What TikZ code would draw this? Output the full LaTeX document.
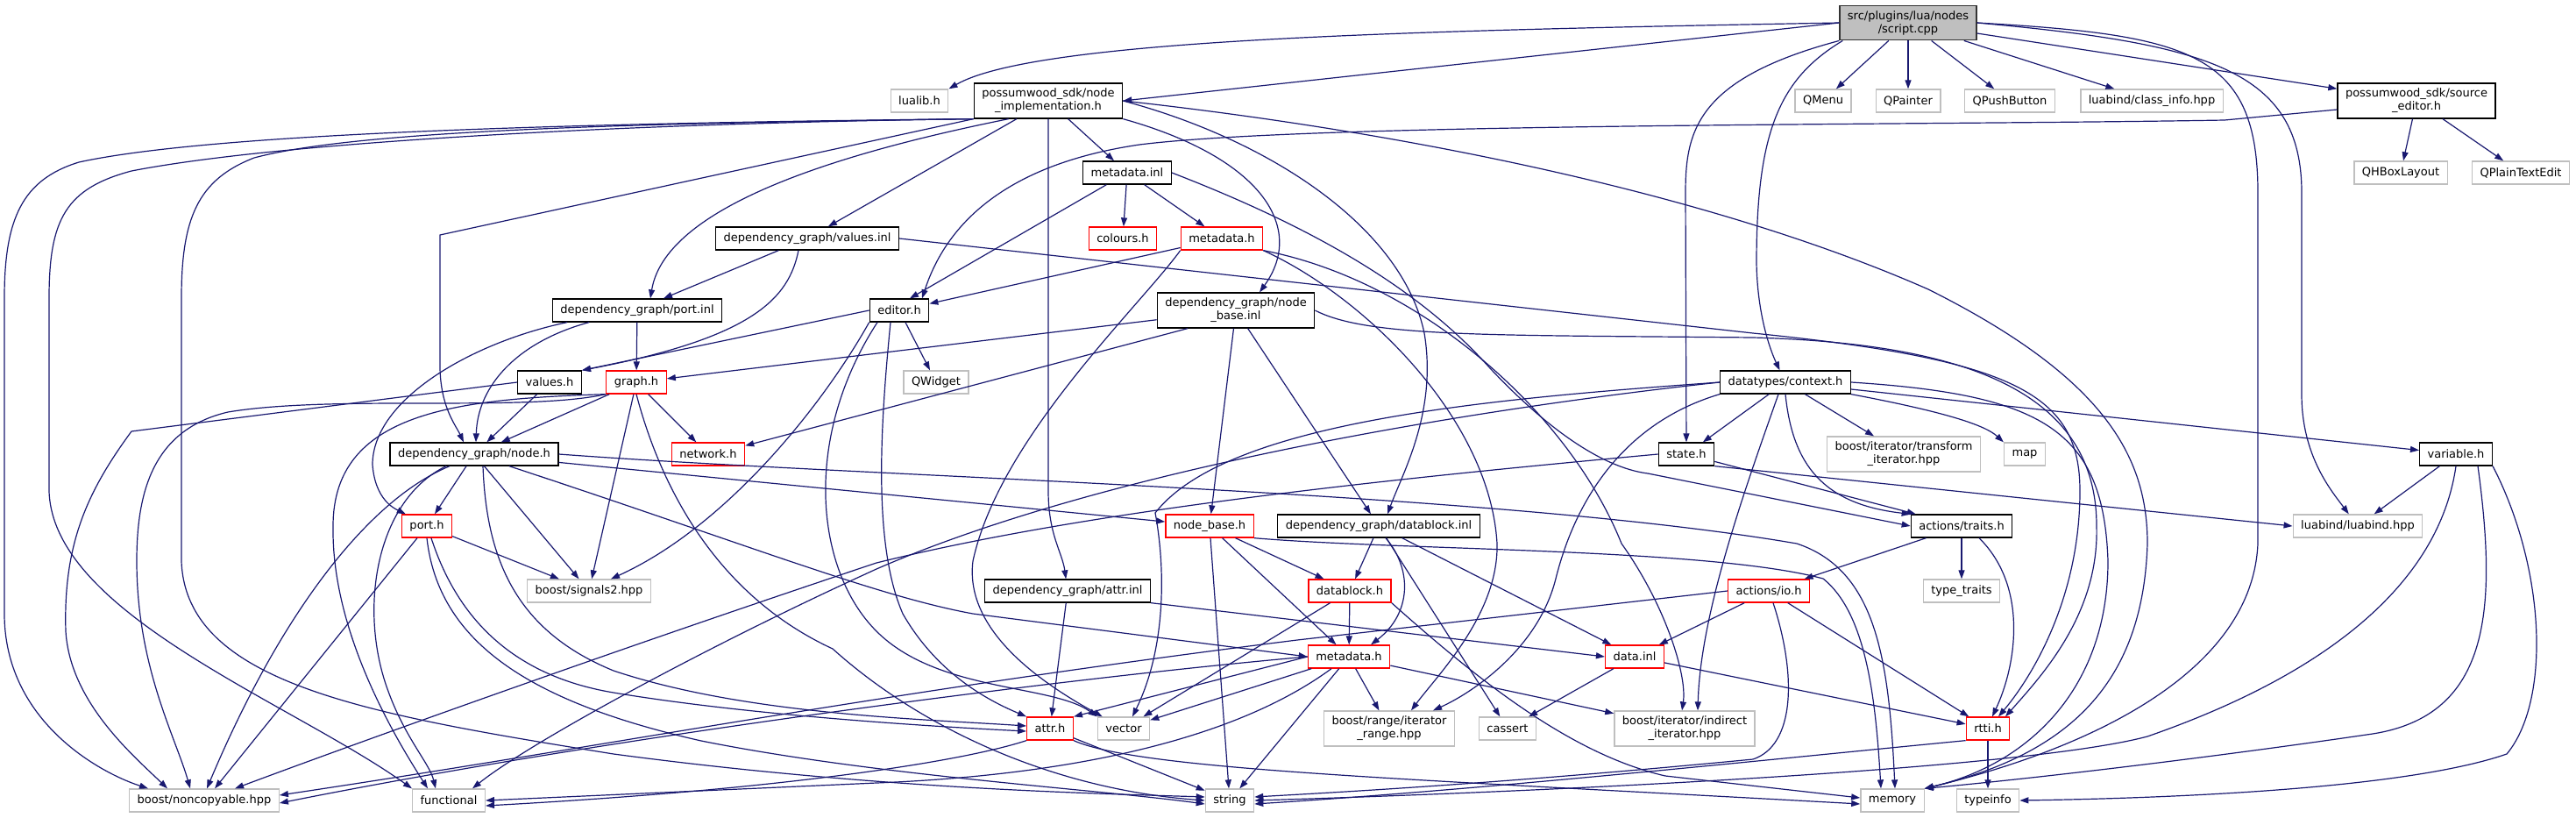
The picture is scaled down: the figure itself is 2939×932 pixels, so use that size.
\documentclass[tikz,border=0pt]{standalone}
\usepackage{fontspec}
\setmainfont{DejaVu Sans}
\usetikzlibrary{arrows.meta}
\definecolor{edge}{HTML}{191970}
\definecolor{lgray}{HTML}{BFBFBF}
\tikzset{
  hdr/.style={rectangle,draw,fill=white,line width=1.3pt,minimum height=26pt,
    inner xsep=9pt,inner ysep=6pt,align=center,font=\fontsize{13}{15}\selectfont},
  extbox/.style={hdr,draw=lgray},
  prjbox/.style={hdr,draw=black},
  cutbox/.style={hdr,draw=red},
  srcbox/.style={hdr,draw=black!80,fill=lgray},
  ar/.style={-{Triangle[length=10pt,width=7pt]},line width=1.2pt,draw=edge},
}
\begin{document}
\begin{tikzpicture}[x=1pt,y=-1pt]
\useasboundingbox (0,0) rectangle (2939,932);

% ---- files, row by row
\node[srcbox] (root) at (2177,26) {src/plugins/lua/nodes\\/script.cpp};
\node[extbox] (lualib) at (1049,115) {lualib.h};
\node[prjbox] (nodeimpl) at (1196,115) {possumwood\_sdk/node\\\_implementation.h};
\node[extbox] (qmenu) at (2080,115) {QMenu};
\node[extbox] (qpainter) at (2177,115) {QPainter};
\node[extbox] (qpush) at (2293,115) {QPushButton};
\node[extbox] (classinfo) at (2455,115) {luabind/class\_info.hpp};
\node[prjbox] (srced) at (2757,115) {possumwood\_sdk/source\\\_editor.h};
\node[prjbox] (mdinl) at (1286,197) {metadata.inl};
\node[extbox] (qhbox) at (2739,197) {QHBoxLayout};
\node[extbox] (qplain) at (2876,197) {QPlainTextEdit};
\node[prjbox] (valinl) at (921,272) {dependency\_graph/values.inl};
\node[cutbox] (colours) at (1281,272) {colours.h};
\node[cutbox] (mdtop) at (1394,272) {metadata.h};
\node[prjbox] (portinl) at (727,354) {dependency\_graph/port.inl};
\node[prjbox] (editor) at (1026,354) {editor.h};
\node[prjbox] (nbinl) at (1410,354) {dependency\_graph/node\\\_base.inl};
\node[prjbox] (valh) at (627,436) {values.h};
\node[cutbox] (graph) at (726,436) {graph.h};
\node[extbox] (qwidget) at (1068,436) {QWidget};
\node[prjbox] (context) at (2037,436) {datatypes/context.h};
\node[prjbox] (nodeh) at (541,518) {dependency\_graph/node.h};
\node[cutbox] (network) at (808,518) {network.h};
\node[prjbox] (state) at (1924,518) {state.h};
\node[extbox] (transform) at (2172,518) {boost/iterator/transform\\\_iterator.hpp};
\node[extbox] (map) at (2310,518) {map};
\node[prjbox] (variable) at (2802,518) {variable.h};
\node[cutbox] (porth) at (487,600) {port.h};
\node[cutbox] (nbh) at (1380,600) {node\_base.h};
\node[prjbox] (dbinl) at (1573,600) {dependency\_graph/datablock.inl};
\node[prjbox] (traits) at (2238,600) {actions/traits.h};
\node[extbox] (luabind) at (2690,600) {luabind/luabind.hpp};
\node[extbox] (signals) at (672,674) {boost/signals2.hpp};
\node[prjbox] (attrinl) at (1218,674) {dependency\_graph/attr.inl};
\node[cutbox] (dbh) at (1540,674) {datablock.h};
\node[cutbox] (ioh) at (2018,674) {actions/io.h};
\node[extbox] (typetraits) at (2238,674) {type\_traits};
\node[cutbox] (mdlow) at (1539,749) {metadata.h};
\node[cutbox] (datainl) at (1865,749) {data.inl};
\node[cutbox] (attrh) at (1198,831) {attr.h};
\node[extbox] (vector) at (1282,831) {vector};
\node[extbox] (itrange) at (1585,831) {boost/range/iterator\\\_range.hpp};
\node[extbox] (cassert) at (1720,831) {cassert};
\node[extbox] (inditer) at (1922,831) {boost/iterator/indirect\\\_iterator.hpp};
\node[cutbox] (rtti) at (2268,831) {rtti.h};
\node[extbox] (noncop) at (233,913) {boost/noncopyable.hpp};
\node[extbox] (functional) at (512,913) {functional};
\node[extbox] (string) at (1403,913) {string};
\node[extbox] (memory) at (2159,913) {memory};
\node[extbox] (typeinfo) at (2268,913) {typeinfo};

% ---- script.cpp
\draw[ar] (root.west) .. controls (1600,35) and (1180,45) .. (lualib.north east);
\draw[ar] (root.west) -- (nodeimpl.east);
\foreach \t in {qmenu,qpainter,qpush,classinfo,srced} \draw[ar] (root) -- (\t);
\draw[ar] (root.south west) .. controls (1935,90) and (1923,150) .. (1923,220) -- (state);
\draw[ar] ([xshift=4pt]root.south west) .. controls (2030,90) and (2004,150) .. (2004,300)
  .. controls (2005,360) and (2020,400) .. (context);
\draw[ar] (root.east) .. controls (2520,50) and (2626,80) .. (2626,220) -- (2626,450)
  .. controls (2626,520) and (2660,560) .. (luabind);
\draw[ar] (root.east) .. controls (2500,40) and (2576,60) .. (2576,220) -- (2576,620)
  .. controls (2570,760) and (2400,850) .. (memory.north east);

% ---- source_editor.h
\draw[ar] (srced) -- (qhbox);
\draw[ar] (srced) -- (qplain);
\draw[ar] ([yshift=-10pt]srced.west) -- (2538,137) .. controls (2200,143) and (1500,140) .. (1300,165)
  .. controls (1130,190) and (1075,270) .. ([xshift=26pt]editor.north);

% ---- node_implementation.h
\draw[ar] (nodeimpl) -- (mdinl);
\draw[ar] (nodeimpl) -- (valinl);
\draw[ar] ([xshift=40pt]nodeimpl.south west) .. controls (980,170) and (760,230) .. ([xshift=15pt]portinl.north);
\draw[ar] (nodeimpl.south west) -- (502,268) -- (502,420) .. controls (503,465) and (520,485) .. ([xshift=-12pt]nodeh.north);
\draw[ar] (nodeimpl.south west) .. controls (700,140) and (250,150) .. (90,185) .. controls (25,205) and (5,250) .. (5,340)
  -- (5,700) .. controls (5,820) and (110,880) .. ([xshift=22pt]noncop.north west);
\draw[ar] (nodeimpl.south west) .. controls (750,140) and (330,160) .. (150,195) .. controls (75,215) and (56,250) .. (56,340)
  -- (56,560) .. controls (60,700) and (330,800) .. (functional.north west);
\draw[ar] (nodeimpl.south west) .. controls (800,140) and (420,145) .. (290,180) .. controls (225,205) and (207,250) .. (207,340)
  -- (207,640) .. controls (212,780) and (420,815) .. (700,860) .. controls (1000,900) and (1250,905) .. ([yshift=4pt]string.west);
\draw[ar] (nodeimpl.south east) .. controls (1440,180) and (1490,260) .. ([xshift=27pt]nbinl.north);
\draw[ar] (nodeimpl.east) .. controls (1450,160) and (1600,260) .. (1625,380)
  .. controls (1640,470) and (1600,540) .. ([xshift=10pt]dbinl.north);
\draw[ar] (nodeimpl) -- (1196,560) .. controls (1196,610) and (1212,630) .. (attrinl);
\draw[ar] (nodeimpl.east) .. controls (1600,150) and (1950,220) .. (2200,330) .. controls (2400,430) and (2450,520) .. (2450,620)
  .. controls (2445,780) and (2360,860) .. (memory.north east);

% ---- metadata.inl, metadata.h
\draw[ar] (mdinl) -- (colours);
\draw[ar] (mdinl) -- (mdtop);
\draw[ar] (mdinl) -- ([xshift=12pt]editor.north);
\draw[ar] (mdinl.east) .. controls (1500,260) and (1620,330) .. (1700,420)
  .. controls (1780,505) and (1840,535) .. (1880,540) -- (traits.west);
\draw[ar] (mdtop) -- (editor);
\draw[ar] (mdtop.south west) .. controls (1300,350) and (1140,500) .. (1110,640)
  .. controls (1100,720) and (1190,780) .. ([xshift=6pt]vector.north west);
\draw[ar] (mdtop.south east) .. controls (1560,340) and (1700,480) .. (1708,620)
  .. controls (1710,700) and (1640,770) .. ([xshift=25pt]itrange.north);
\draw[ar] (mdtop.south east) .. controls (1620,320) and (1790,470) .. (1850,620)
  .. controls (1900,690) and (1925,770) .. ([xshift=-3pt]inditer.north);

% ---- values.inl, port.inl, editor.h
\draw[ar] (valinl) -- ([xshift=30pt]portinl.north);
\draw[ar] ([xshift=-10pt]valinl.south) .. controls (900,340) and (860,385) .. (valh.north east);
\draw[ar] (valinl.east) -- (2000,380) .. controls (2300,410) and (2373,450) .. (2373,560)
  .. controls (2373,680) and (2320,770) .. ([xshift=12pt]rtti.north);
\draw[ar] (portinl) -- (graph);
\draw[ar] ([xshift=-55pt]portinl.south) .. controls (590,390) and (545,440) .. ([xshift=2pt]nodeh.north);
\draw[ar] ([xshift=-80pt]portinl.south) .. controls (540,390) and (425,455) .. (425,530)
  .. controls (428,570) and (450,580) .. ([xshift=5pt]porth.north west);
\draw[ar] (editor.west) -- (valh.north east);
\draw[ar] (editor) -- (qwidget);
\draw[ar] (editor.south west) .. controls (940,460) and (830,600) .. ([xshift=25pt]signals.north);
\draw[ar] ([xshift=-10pt]editor.south) .. controls (1005,480) and (995,620) .. (1030,700)
  .. controls (1070,770) and (1130,800) .. (attrh.north west);
\draw[ar] ([xshift=-25pt]editor.south) .. controls (915,500) and (930,650) .. (1000,720)
  .. controls (1070,790) and (1200,780) .. (vector.north west);

% ---- node_base.inl
\draw[ar] (nbinl) -- (graph);
\draw[ar] ([xshift=-55pt]nbinl.south) -- ([yshift=-4pt]network.north east);
\draw[ar] (nbinl) -- (nbh);
\draw[ar] (nbinl) -- (dbinl);
\draw[ar] (nbinl.east) .. controls (1560,385) and (1700,382) .. (2000,385) .. controls (2250,392) and (2392,450) .. (2392,600)
  .. controls (2395,700) and (2330,770) .. ([xshift=20pt]rtti.north);

% ---- values.h, graph.h
\draw[ar] (valh) -- (nodeh);
\draw[ar] (valh.west) -- (150,492) .. controls (100,560) and (72,620) .. (75,720)
  .. controls (80,800) and (150,860) .. ([xshift=44pt]noncop.north west);
\draw[ar] (graph) -- (nodeh);
\draw[ar] (graph) -- (network);
\draw[ar] (graph) -- (signals);
\draw[ar] (graph.south west) .. controls (600,470) and (380,450) .. (260,470) .. controls (175,490) and (156,560) .. (156,640)
  .. controls (156,760) and (200,840) .. ([xshift=70pt]noncop.north west);
\draw[ar] (graph.south west) .. controls (520,455) and (380,470) .. (380,600)
  .. controls (378,720) and (450,840) .. ([xshift=-24pt]functional.north);
\draw[ar] (graph.south) .. controls (755,560) and (820,680) .. (950,740)
  .. controls (1050,830) and (1200,900) .. (string.west);

% ---- dependency_graph/node.h
\draw[ar] (nodeh) -- (porth);
\draw[ar] (nodeh) -- (signals);
\draw[ar] ([xshift=-28pt]nodeh.south) .. controls (420,570) and (320,700) .. ([xshift=89pt]noncop.north west);
\draw[ar] ([xshift=-32pt]nodeh.south) .. controls (430,570) and (410,690) .. (440,780)
  .. controls (460,840) and (490,870) .. ([xshift=-15pt]functional.north);
\draw[ar] (nodeh) -- (nbh);
\draw[ar] ([xshift=40pt]nodeh.south) .. controls (850,620) and (1000,680) .. (1110,700) -- (mdlow.west);
\draw[ar] ([xshift=10pt]nodeh.south) .. controls (555,640) and (590,720) .. (700,765)
  .. controls (850,815) and (1050,820) .. ([yshift=3pt]attrh.west);
\draw[ar] (nodeh.east) .. controls (1000,545) and (1700,560) .. (2050,620)
  .. controls (2140,650) and (2155,750) .. ([xshift=3pt]memory.north);

% ---- port.h, node_base.h
\draw[ar] (porth) -- (signals);
\draw[ar] (porth) -- ([xshift=98pt]noncop.north west);
\draw[ar] ([xshift=5pt]porth.south) .. controls (520,700) and (580,770) .. (700,790)
  .. controls (850,815) and (1050,828) .. ([yshift=-3pt]attrh.west);
\draw[ar] (porth.south) .. controls (500,730) and (600,800) .. (800,845)
  .. controls (1000,885) and (1250,900) .. ([yshift=-4pt]string.west);
\draw[ar] (nbh) -- (dbh);
\draw[ar] (nbh) -- (mdlow);
\draw[ar] (nbh) -- (string);
\draw[ar] (nbh.south east) .. controls (1600,628) and (1950,625) .. (2080,660)
  .. controls (2130,700) and (2140,800) .. ([xshift=-13pt]memory.north);

% ---- datablock.inl, datablock.h
\draw[ar] (dbinl) -- (dbh);
\draw[ar] ([xshift=8pt]dbinl.south) .. controls (1612,650) and (1610,700) .. ([xshift=25pt]mdlow.north);
\draw[ar] (dbinl) -- (cassert);
\draw[ar] (dbinl) -- (datainl);
\draw[ar] (dbh) -- (mdlow);
\draw[ar] (dbh) -- (vector);
\draw[ar] (dbh.south east) .. controls (1680,770) and (1790,860) .. (1900,885) -- ([yshift=3pt]memory.west);

% ---- metadata.h (lower)
\draw[ar] (mdlow.west) -- (attrh.north east);
\draw[ar] (mdlow) -- (vector);
\draw[ar] (mdlow) -- (itrange);
\draw[ar] (mdlow) -- (inditer);
\draw[ar] (mdlow) -- (string);
\draw[ar] (mdlow.west) .. controls (1200,775) and (700,840) .. ([yshift=-3pt]noncop.east);
\draw[ar] ([xshift=-20pt]mdlow.south) .. controls (1400,850) and (1200,885) .. (1000,893) -- (functional.east);

% ---- attr.inl, attr.h, data.inl
\draw[ar] (attrinl) -- (attrh);
\draw[ar] (attrinl.south east) -- (datainl.west);
\draw[ar] (attrh) -- (string);
\draw[ar] (attrh.south west) .. controls (1100,868) and (900,900) .. ([yshift=-6pt]functional.east);
\draw[ar] (attrh.south east) .. controls (1300,878) and (1600,888) .. ([yshift=-4pt]memory.west);
\draw[ar] (datainl) -- (cassert);
\draw[ar] (datainl) -- (rtti);

% ---- actions
\draw[ar] (ioh) -- (datainl);
\draw[ar] (ioh) -- (rtti);
\draw[ar] (ioh.west) -- (1480,730) .. controls (1000,790) and (700,850) .. ([yshift=6pt]noncop.east);
\draw[ar] ([xshift=5pt]ioh.south) .. controls (2050,770) and (2048,850) .. (2000,866)
  .. controls (1700,895) and (1500,905) .. ([yshift=4pt]string.east);
\draw[ar] (traits) -- (ioh);
\draw[ar] (traits) -- (typetraits);
\draw[ar] ([xshift=20pt]traits.south) .. controls (2315,670) and (2300,760) .. ([xshift=5pt]rtti.north);

% ---- datatypes/context.h
\draw[ar] (context) -- (state);
\draw[ar] (context) -- (transform);
\draw[ar] (context.south east) .. controls (2220,470) and (2265,485) .. (map.north west);
\draw[ar] (context) -- (variable);
\draw[ar] (context.south) .. controls (2045,530) and (2080,575) .. (traits.north west);
\draw[ar] (context.west) .. controls (1650,470) and (1250,540) .. (1000,649)
  .. controls (800,740) and (600,850) .. ([xshift=27pt]functional.north);
\draw[ar] (context.west) .. controls (1700,455) and (1400,480) .. (1318,585)
  .. controls (1330,650) and (1330,740) .. ([xshift=10pt]vector.north);
\draw[ar] (context.south west) .. controls (1860,480) and (1800,560) .. (1775,660)
  .. controls (1755,740) and (1680,790) .. ([xshift=50pt]itrange.north);
\draw[ar] ([xshift=-8pt]context.south) .. controls (1990,560) and (1940,700) .. ([xshift=15pt]inditer.north);
\draw[ar] (context.east) .. controls (2330,450) and (2400,490) .. (2405,640)
  .. controls (2405,780) and (2320,870) .. (memory.north east);

% ---- state.h, variable.h, rtti.h
\draw[ar] (state) -- (traits);
\draw[ar] (state.south east) -- (luabind.west);
\draw[ar] (state.west) .. controls (1600,545) and (1250,580) .. (1000,642)
  .. controls (700,742) and (400,850) .. ([xshift=121pt]noncop.north west);
\draw[ar] (variable) -- (luabind);
\draw[ar] (variable.south) .. controls (2785,650) and (2680,760) .. (2450,840)
  .. controls (2300,880) and (1700,905) .. (string.east);
\draw[ar] ([xshift=25pt]variable.south) .. controls (2850,700) and (2840,820) .. (2700,838)
  .. controls (2550,860) and (2350,885) .. (memory.north east);
\draw[ar] (variable.south east) .. controls (2905,650) and (2910,800) .. (2860,860)
  .. controls (2750,898) and (2500,910) .. (typeinfo.east);
\draw[ar] (rtti) -- (typeinfo);
\draw[ar] (rtti.south west) .. controls (2000,868) and (1700,900) .. ([yshift=-4pt]string.east);
\end{tikzpicture}
\end{document}
